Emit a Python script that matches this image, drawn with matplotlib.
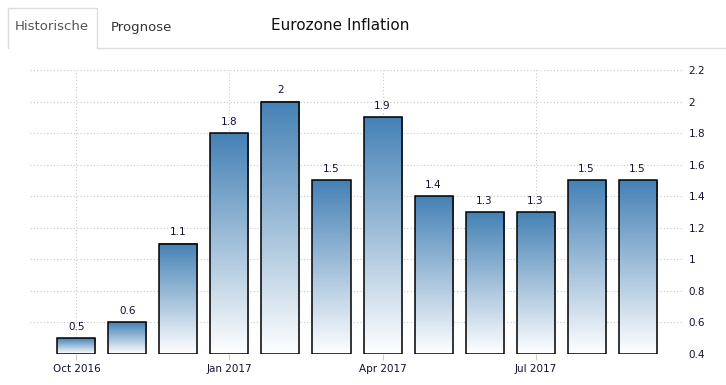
import numpy as np
import matplotlib.pyplot as plt
from matplotlib.patches import Rectangle
from matplotlib.colors import LinearSegmentedColormap
from matplotlib.lines import Line2D

### data
months = ["Oct 2016", "Nov 2016", "Dec 2016", "Jan 2017", "Feb 2017", "Mar 2017",
          "Apr 2017", "May 2017", "Jun 2017", "Jul 2017", "Aug 2017", "Sep 2017"]
inflation = [0.5, 0.6, 1.1, 1.8, 2.0, 1.5, 1.9, 1.4, 1.3, 1.3, 1.5, 1.5]
tick_months = ["Oct 2016", "Jan 2017", "Apr 2017", "Jul 2017"]
y_ticks = [0.4, 0.6, 0.8, 1.0, 1.2, 1.4, 1.6, 1.8, 2.0, 2.2]

### figure
fig = plt.figure(figsize=(7.26, 3.85), dpi=100)
ax = fig.add_axes([30/726, 1 - 354/385, 653/726, 284/385])

ymin, ymax = 0.4, 2.2

# gradient bars: blue at top to white at bottom of each bar
cmap = LinearSegmentedColormap.from_list("bar", ["#ffffff", "#4581b5"])
grad = np.linspace(0, 1, 256).reshape(-1, 1)
w = 0.745
for i, v in enumerate(inflation):
    x0 = i - w / 2
    ax.imshow(grad, extent=(x0, x0 + w, ymin, v), origin="lower", cmap=cmap,
              aspect="auto", zorder=2, interpolation="bilinear")
    ax.add_patch(Rectangle((x0, ymin), w, v - ymin, fill=False, edgecolor="black",
                           linewidth=1.1, zorder=3))
    ax.text(i, v + 0.04, f"{v:g}", ha="center", va="bottom", fontsize=7.5,
            color="#111133", zorder=4)

ax.set_xlim(-0.91, 11.89)
ax.set_ylim(ymin, ymax)

# axes styling
xt = [months.index(m) for m in tick_months]
ax.set_xticks(xt)
ax.set_xticklabels(tick_months, fontsize=7.5, color="#111133")
ax.set_yticks(y_ticks)
ax.set_yticklabels([f"{t:g}" for t in y_ticks], fontsize=7.5, color="#111133")
ax.yaxis.tick_right()
ax.tick_params(axis="y", length=0, pad=4)
ax.tick_params(axis="x", length=4, color="#cccccc", pad=3)
ax.grid(True, linestyle=(0, (1, 2)), color="#c8c8c8", linewidth=0.8, zorder=0)
ax.set_axisbelow(True)
for s in ax.spines.values():
    s.set_visible(False)

# tab header
yb, yt = 1 - 48/385, 1 - 8/385
xl, xr = 8/726, 97/726
fig.add_artist(Line2D([xr, 1], [yb, yb], color="#dddddd", lw=1))
fig.add_artist(Line2D([xl, xl, xr, xr], [yb, yt, yt, yb], color="#dddddd", lw=1))
fig.text(52/726, 1 - 27/385, "Historische", ha="center", va="center",
         fontsize=9.5, color="#555555")
fig.text(141/726, 1 - 27/385, "Prognose", ha="center", va="center",
         fontsize=9.5, color="#333333")
fig.text(340/726, 1 - 25/385, "Eurozone Inflation", ha="center", va="center",
         fontsize=11, color="#111111")

plt.savefig("out.png", dpi=100)
